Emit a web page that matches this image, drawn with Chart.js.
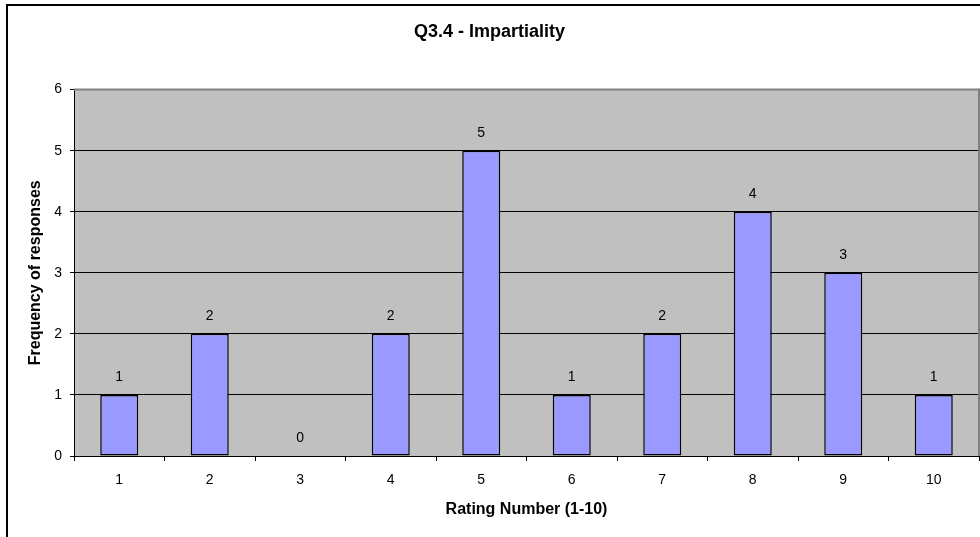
<!DOCTYPE html>
<html>
<head>
<meta charset="utf-8">
<script src="https://cdn.jsdelivr.net/npm/chart.js@4/dist/chart.umd.min.js"></script>
<style>
  html, body { margin: 0; padding: 0; background: #ffffff; }
  #wrap { width: 980px; height: 537px; position: relative; }
</style>
</head>
<body>
<div id="wrap"><canvas id="c" width="980" height="537"></canvas></div>
<script>
// Ratings on the x axis and how many responses gave each one
const ratings = ['1', '2', '3', '4', '5', '6', '7', '8', '9', '10'];
const frequencies = [1, 2, 0, 2, 5, 1, 2, 4, 3, 1];
const yTicks = [0, 1, 2, 3, 4, 5, 6];

const FONT = "'Liberation Sans', Arial, sans-serif";

// Grey plot background, grey top/right frame, and the outer chart border
const frame = {
  id: 'frame',
  beforeDraw(chart) {
    const { ctx, chartArea: a } = chart;
    ctx.save();
    ctx.fillStyle = '#ffffff';
    ctx.fillRect(0, 0, chart.width, chart.height);
    ctx.strokeStyle = '#000000';
    ctx.lineWidth = 2;
    ctx.strokeRect(7, 5, chart.width + 20, chart.height + 20);
    ctx.fillStyle = '#c0c0c0';
    ctx.fillRect(a.left, a.top, a.right - a.left, a.bottom - a.top);
    ctx.restore();
  },
  beforeDatasetsDraw(chart) {
    const { ctx, chartArea: a } = chart;
    ctx.save();
    ctx.strokeStyle = '#808080';
    ctx.lineWidth = 2;
    ctx.beginPath();
    ctx.moveTo(a.left, a.top);
    ctx.lineTo(a.right, a.top);
    ctx.lineTo(a.right, a.bottom);
    ctx.stroke();
    ctx.restore();
  }
};

// Value written above each bar
const valueLabels = {
  id: 'valueLabels',
  afterDatasetsDraw(chart) {
    const { ctx } = chart;
    const meta = chart.getDatasetMeta(0);
    ctx.save();
    ctx.fillStyle = '#000000';
    ctx.font = '14px ' + FONT;
    ctx.textAlign = 'center';
    ctx.textBaseline = 'middle';
    meta.data.forEach((bar, i) => {
      ctx.fillText(String(frequencies[i]), bar.x, bar.y - 18);
    });
    ctx.restore();
  }
};

new Chart(document.getElementById('c'), {
  type: 'bar',
  data: {
    labels: ratings,
    datasets: [{
      data: frequencies,
      backgroundColor: '#9999ff',
      borderColor: '#000000',
      borderWidth: 1.5,
      borderSkipped: false,
      barPercentage: 0.42,
      categoryPercentage: 1.0
    }]
  },
  options: {
    responsive: false,
    animation: false,
    devicePixelRatio: 1,
    layout: { padding: { left: 0, right: 1, top: 0, bottom: 0 } },
    plugins: {
      legend: { display: false },
      tooltip: { enabled: false },
      title: {
        display: true,
        text: 'Q3.4 - Impartiality',
        color: '#000000',
        font: { family: FONT, size: 18, weight: 'bold' },
        padding: { top: 21, bottom: 47 }
      }
    },
    scales: {
      x: {
        offset: true,
        grid: {
          offset: true,
          drawOnChartArea: false,
          drawTicks: true,
          tickLength: 5,
          color: '#000000'
        },
        border: { display: true, color: '#000000', width: 1 },
        ticks: {
          color: '#000000',
          font: { family: FONT, size: 14 },
          padding: 11,
          maxRotation: 0
        },
        title: {
          display: true,
          text: 'Rating Number (1-10)',
          color: '#000000',
          font: { family: FONT, size: 16, weight: 'bold' },
          padding: { top: 10, bottom: 18 }
        },
        afterFit(scale) { scale.height = 81; }
      },
      y: {
        min: 0,
        max: 6,
        afterBuildTicks(scale) { scale.ticks = yTicks.map(v => ({ value: v })); },
        grid: {
          color: '#000000',
          drawTicks: true,
          tickLength: 4
        },
        border: { display: true, color: '#000000', width: 1 },
        ticks: {
          color: '#000000',
          font: { family: FONT, size: 14 },
          padding: 8
        },
        title: {
          display: true,
          text: 'Frequency of responses',
          color: '#000000',
          font: { family: FONT, size: 16, weight: 'bold' },
          padding: { top: 26, bottom: 0 }
        },
        afterFit(scale) { scale.width = 74; }
      }
    }
  },
  plugins: [frame, valueLabels]
});
</script>
</body>
</html>
